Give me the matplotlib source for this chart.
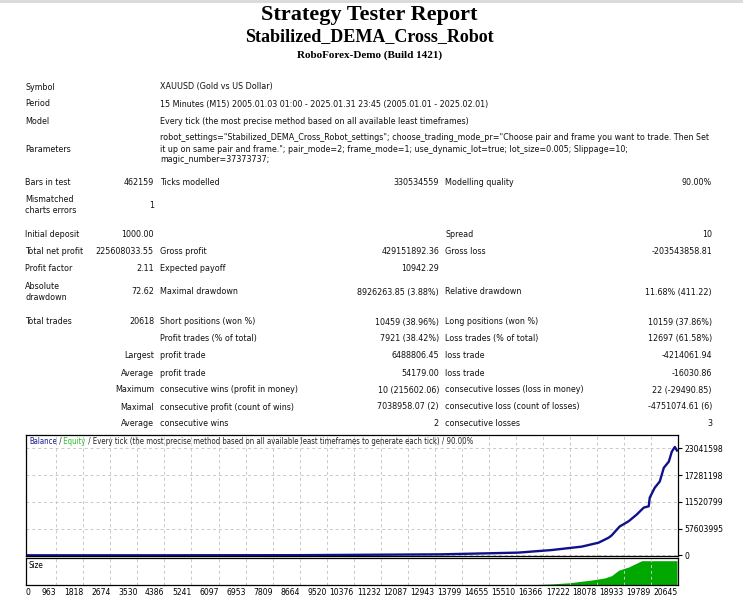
import numpy as np
import matplotlib
matplotlib.use("Agg")
import matplotlib.pyplot as plt

W, H = 743, 600
BODY = ['DejaVu Sans']
FS = 6.4

# balance curve (trade number, balance)
trades = [0, 4000, 8700, 13148, 14642, 15595, 16643, 17595, 18135, 18453, 18548,
          18802, 19088, 19342, 19565, 19723, 19755, 19914, 20073, 20200, 20359,
          20454, 20549, 20618]
balance = [1000, 20000, 300000, 2.1e6, 4.3e6, 5.8e6, 11.3e6, 18.6e6, 27.2e6, 37.9e6, 42.8e6,
           62.0e6, 73.4e6, 87.7e6, 102.7e6, 105.5e6, 124.1e6, 145.5e6, 159.0e6, 188.3e6, 201.7e6,
           223.1e6, 233.2e6, 225.6e6]

# lot size panel
size_trades = [0, 16166, 16643, 17182, 17913, 18326, 18548, 18770, 19088, 19501, 20618]
size_lots = [0, 0.5, 1.0, 2.0, 4.6, 6.5, 8.7, 13.7, 16.7, 22.5, 22.5]

x_ticks = [0, 963, 1818, 2674, 3530, 4386, 5241, 6097, 6953, 7809, 8664, 9520, 10376,
           11232, 12087, 12943, 13799, 14655, 15510, 16366, 17222, 18078, 18933, 19789, 20645]
y_ticks = [0, 57603995, 115207990, 172811980, 230415980]
y_tick_labels = ['0', '57603995', '11520799', '17281198', '23041598']

info_rows = [
    ('Symbol', 'XAUUSD (Gold vs US Dollar)', 87),
    ('Period', '15 Minutes (M15) 2005.01.03 01:00 - 2025.01.31 23:45 (2005.01.01 - 2025.02.01)', 104),
    ('Model', 'Every tick (the most precise method based on all available least timeframes)', 122),
]
param_lines = [
    'robot_settings="Stabilized_DEMA_Cross_Robot_settings"; choose_trading_mode_pr="Choose pair and frame you want to trade. Then Set',
    'it up on same pair and frame."; pair_mode=2; frame_mode=1; use_dynamic_lot=true; lot_size=0.005; Slippage=10;',
    'magic_number=37373737;',
]

# label, value1, label2, value2, label3, value3, y
stat_rows = [
    ('Bars in test', '462159', 'Ticks modelled', '330534559', 'Modelling quality', '90.00%', 183),
    ('Mismatched\ncharts errors', '1', '', '', '', '', 205),
    ('Initial deposit', '1000.00', '', '', 'Spread', '10', 235),
    ('Total net profit', '225608033.55', 'Gross profit', '429151892.36', 'Gross loss', '-203543858.81', 252),
    ('Profit factor', '2.11', 'Expected payoff', '10942.29', '', '', 269),
    ('Absolute\ndrawdown', '72.62', 'Maximal drawdown', '8926263.85 (3.88%)', 'Relative drawdown', '11.68% (411.22)', 292),
    ('Total trades', '20618', 'Short positions (won %)', '10459 (38.96%)', 'Long positions (won %)', '10159 (37.86%)', 322),
    ('', '', 'Profit trades (% of total)', '7921 (38.42%)', 'Loss trades (% of total)', '12697 (61.58%)', 339),
    ('', 'Largest', 'profit trade', '6488806.45', 'loss trade', '-4214061.94', 356),
    ('', 'Average', 'profit trade', '54179.00', 'loss trade', '-16030.86', 373),
    ('', 'Maximum', 'consecutive wins (profit in money)', '10 (215602.06)', 'consecutive losses (loss in money)', '22 (-29490.85)', 390),
    ('', 'Maximal', 'consecutive profit (count of wins)', '7038958.07 (2)', 'consecutive loss (count of losses)', '-4751074.61 (6)', 407),
    ('', 'Average', 'consecutive wins', '2', 'consecutive losses', '3', 424),
]


def fx(x):
    return x / W


def fy(y):
    return 1 - y / H


fig = plt.figure(figsize=(W / 100, H / 100), dpi=100)
fig.patch.set_facecolor('white')

# thin gray strip at top
fig.add_artist(plt.Line2D([0, 1], [fy(1), fy(1)], color='#d8d8d8', lw=2))

fig.text(0.497, fy(15), 'Strategy Tester Report', ha='center', va='center',
         family='Liberation Serif', weight='bold', fontsize=16)
fig.text(0.497, fy(37), 'Stabilized_DEMA_Cross_Robot', ha='center', va='center',
         family='Liberation Serif', weight='bold', fontsize=13)
fig.text(0.497, fy(55), 'RoboForex-Demo (Build 1421)', ha='center', va='center',
         family='Liberation Serif', weight='bold', fontsize=8)

txt = dict(family=BODY, fontstretch='condensed', fontsize=FS, va='center', color='#111111')

for lab, val, y in info_rows:
    fig.text(fx(25), fy(y), lab, **txt)
    fig.text(fx(160), fy(y), val, **txt)

fig.text(fx(25), fy(149), 'Parameters', **txt)
for i, line in enumerate(param_lines):
    fig.text(fx(160), fy(138 + 11 * i), line, **txt)

for lab, v1, l2, v2, l3, v3, y in stat_rows:
    fig.text(fx(25), fy(y), lab, linespacing=1.2, **txt)
    fig.text(fx(154), fy(y), v1, ha='right', **txt)
    fig.text(fx(160), fy(y), l2, **txt)
    fig.text(fx(439), fy(y), v2, ha='right', **txt)
    fig.text(fx(445), fy(y), l3, **txt)
    fig.text(fx(712), fy(y), v3, ha='right', **txt)

# balance chart
L, R = 26, 678
ax = fig.add_axes([fx(L), fy(556), (R - L) / W, (556 - 435) / H])
ax.plot(trades, balance, color='#10108a', lw=1.7, solid_joinstyle='round')
ax.set_xlim(0, 20650)
ax.set_ylim(-1.5e6, 259e6)
ax.set_xticks(x_ticks)
ax.set_xticklabels([])
ax.tick_params(axis='x', length=0)
ax.yaxis.tick_right()
ax.set_yticks(y_ticks)
ax.set_yticklabels(y_tick_labels, family=BODY, fontstretch='condensed', fontsize=6.1)
ax.tick_params(axis='y', length=3, pad=1.5, width=0.8)
ax.grid(True, color='#c8c8c8', ls=(0, (3, 3)), lw=0.7)
for s in ax.spines.values():
    s.set_color('black')
    s.set_linewidth(0.9)

# header inside chart
r = fig.canvas.get_renderer()
hx = L + 3
parts = [('Balance', '#1a1a8c'), (' /', '#222222'), (' Equity', '#2ebd2e'),
         (' / Every tick (the most precise method based on all available least timeframes to generate each tick) / 90.00%', '#222222')]
for s, c in parts:
    t = fig.text(fx(hx), fy(441), s, color=c, family=BODY, fontstretch='condensed',
                 fontsize=5.6, va='center')
    bb = t.get_window_extent(renderer=r)
    hx += bb.width

# size panel
ax2 = fig.add_axes([fx(L), fy(585), (R - L) / W, (585 - 558) / H])
ax2.fill_between(size_trades, size_lots, 0, color='#00a800', lw=0)
ax2.set_xlim(0, 20650)
ax2.set_ylim(0, 25)
ax2.set_yticks([])
ax2.set_xticks(x_ticks)
ax2.set_xticklabels([str(v) for v in x_ticks], family=BODY, fontstretch='condensed', fontsize=6.1)
for i, lab in enumerate(ax2.get_xticklabels()):
    lab.set_ha('left' if i == 0 else 'right')
ax2.tick_params(axis='x', length=0, pad=2)
ax2.grid(True, axis='x', color='#c8c8c8', ls=(0, (3, 3)), lw=0.7)
for s in ax2.spines.values():
    s.set_color('black')
    s.set_linewidth(0.9)
ax2.text(3 / (R - L), 0.72, 'Size', transform=ax2.transAxes, family=BODY,
         fontstretch='condensed', fontsize=5.8, va='center')

fig.savefig('out.png', dpi=100)
